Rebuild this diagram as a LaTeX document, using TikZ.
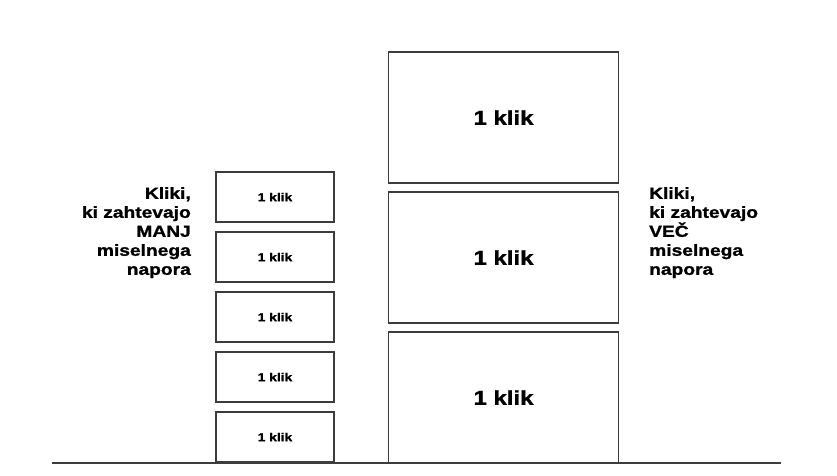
\documentclass[tikz,border=0pt]{standalone}
\usepackage{fontspec}
\usetikzlibrary{positioning}
\newfontfamily\klikfont[FakeStretch=1.2,FakeBold=1.3]{Liberation Sans Bold}
\definecolor{cRob}{HTML}{3C3C3C}
\tikzset{
    x=1pt, y=-1pt,
    mali/.style={draw=cRob, line width=1.1pt, fill=white, inner sep=0pt,
                 minimum width=118pt, minimum height=50pt,
                 font=\klikfont\fontsize{11.5}{13.8}\selectfont},
    veliki/.style={draw=cRob, line width=1.1pt, fill=white, inner sep=0pt,
                   minimum width=230pt, minimum height=131pt,
                   font=\klikfont\fontsize{20}{24}\selectfont},
    opis/.style={inner sep=0pt, font=\klikfont\fontsize{16}{19}\selectfont},
    os/.style={draw=cRob, line width=1.3pt},
}
\begin{document}
\begin{tikzpicture}
    \useasboundingbox (0,0) rectangle (837,475);

    % levo: manj miselnega napora
    \node[opis, align=right, anchor=north east] (manj) at (191,187)
        {Kliki,\\ki zahtevajo\\MANJ\\miselnega\\napora};

    \node[mali] (m1) at (275,197) {1 klik};
    \node[mali] (m2) at (275,257) {1 klik};
    \node[mali] (m3) at (275,317) {1 klik};
    \node[mali] (m4) at (275,377) {1 klik};
    \node[mali] (m5) at (275,437) {1 klik};

    % desno: vec miselnega napora
    \node[veliki] (v1) at (503.5,117.5) {1 klik};
    \node[veliki] (v2) at (503.5,257.5) {1 klik};
    \node[veliki] (v3) at (503.5,397.5) {1 klik};

    \node[opis, align=left, anchor=north west] (vec) at (649,187)
        {Kliki,\\ki zahtevajo\\VEČ\\miselnega\\napora};

    % osnovna crta
    \coordinate (osL) at (52,463);
    \coordinate (osD) at (781,463);
    \draw[os] (osL) -- (osD);
\end{tikzpicture}
\end{document}
